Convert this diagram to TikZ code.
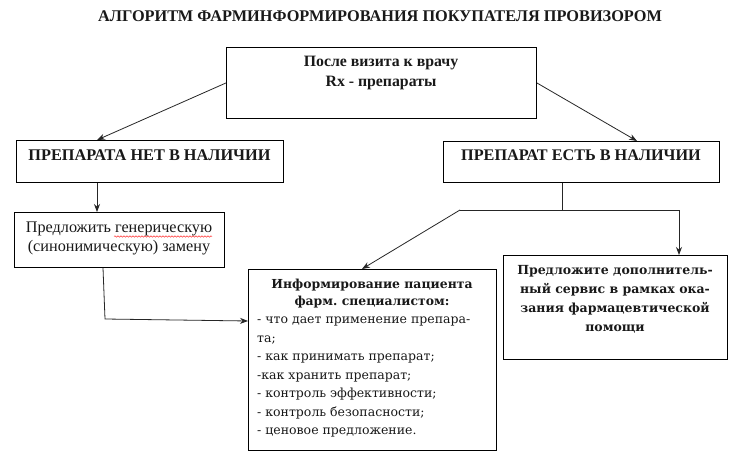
\documentclass[tikz,border=0pt]{standalone}
\usepackage{fontspec}
\setmainfont{Liberation Serif}
\newfontfamily\camfont{DejaVu Serif}
\usetikzlibrary{arrows.meta,decorations.pathmorphing}
\frenchspacing
\begin{document}
\begin{tikzpicture}[x=1pt,y=-1pt,
  box/.style={draw=black,line width=0.9pt,inner sep=0pt,anchor=north west},
  conn/.style={line width=0.8pt,draw=black!85},
  arr/.style={conn,-{Stealth[length=8pt,width=6pt]}},
  txt/.style={inner sep=0pt,text=black!90}]
\useasboundingbox[fill=white] (0,0) rectangle (740,468);
% title
\node[txt,font=\fontsize{16.3}{18}\selectfont\bfseries] (title) at (380,16) {АЛГОРИТМ ФАРМИНФОРМИРОВАНИЯ ПОКУПАТЕЛЯ ПРОВИЗОРОМ};
% boxes
\node[box,minimum width=310pt,minimum height=71pt] (T) at (226,47) {};
\node[box,minimum width=267pt,minimum height=42pt] (L) at (16,140) {};
\node[box,minimum width=276pt,minimum height=41pt] (R) at (443,141) {};
\node[box,minimum width=210pt,minimum height=55pt] (G) at (14,212) {};
\node[box,minimum width=248pt,minimum height=181pt] (I) at (248,269) {};
\node[box,minimum width=224pt,minimum height=104pt] (S) at (503,255) {};
% texts
\node[txt,align=center,font=\fontsize{15.8}{20}\selectfont\bfseries] (Tt) at (381,73) {После визита к врачу\\ Rx - препараты};
\node[txt,font=\fontsize{16.3}{18}\selectfont\bfseries] (Lt) at (149.5,155) {ПРЕПАРАТА НЕТ В НАЛИЧИИ};
\node[txt,font=\fontsize{16.2}{18}\selectfont\bfseries] (Rt) at (581,155) {ПРЕПАРАТ ЕСТЬ В НАЛИЧИИ};
\node[txt,align=center,font=\fontsize{16.2}{19}\selectfont] (Gt) at (119,238) {Предложить генерическую\\ (синонимическую) замену};
\node[txt,align=center,font=\camfont\fontsize{12.4}{17}\selectfont\bfseries] (It) at (372,293.5) {Информирование пациента\\ фарм. специалистом:};
\node[txt,align=left,anchor=west,font=\camfont\fontsize{12.5}{18.5}\selectfont] (Il) at (257,377) {- что дает применение препара-\\ та;\\ - как принимать препарат;\\ -как хранить препарат;\\ - контроль эффективности;\\ - контроль безопасности;\\ - ценовое предложение.};
\node[txt,align=center,font=\camfont\fontsize{12.5}{19}\selectfont\bfseries] (St) at (615,299) {Предложите дополнитель-\\ ный сервис в рамках ока-\\ зания фармацевтической\\ помощи};
% spell-check squiggle
\coordinate (sq1) at (114,236.5);
\coordinate (sq2) at (212,236.5);
\draw[red!80,line width=0.5pt,decorate,decoration={snake,amplitude=0.7pt,segment length=3pt}] (sq1) -- (sq2);
% connectors
\draw[arr] (T.west) -- ([xshift=81pt]L.north west);
\draw[arr] (T.east) -- ([xshift=194pt]R.north west);
\draw[arr] ([xshift=81pt]L.south west) -- ([xshift=83pt]G.north west);
\coordinate (gb) at (105,319);
\draw[arr] ([xshift=89pt]G.south west) -- (gb) -- ([yshift=-52pt]I.north west);
\coordinate (j) at (562,210);
\coordinate (hl) at (460,210);
\coordinate (hr) at (679,210);
\draw[conn] ([xshift=119pt]R.south west) -- (j);
\draw[arr] (hl) -- (hr) -- ([xshift=176pt]S.north west);
\draw[arr] (hl) -- ([xshift=114pt]I.north west);
\end{tikzpicture}
\end{document}
